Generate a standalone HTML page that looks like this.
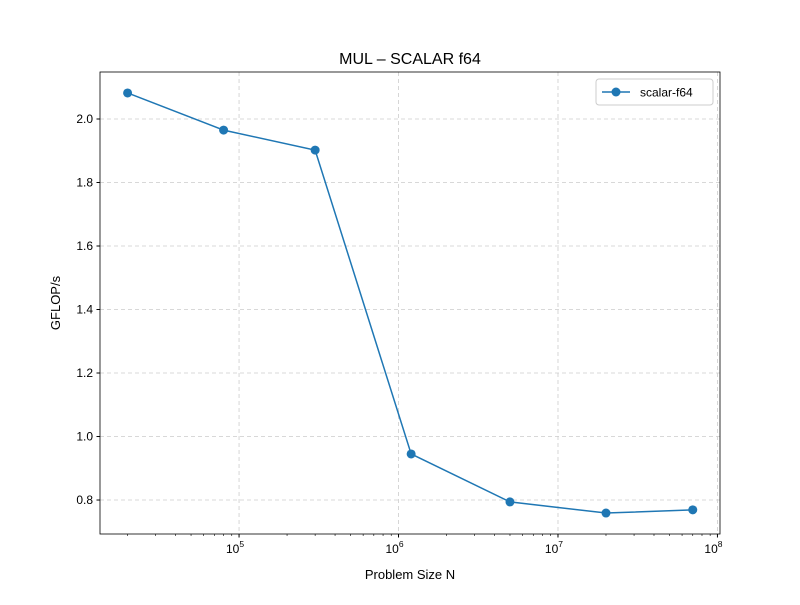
<!DOCTYPE html>
<html><head><meta charset="utf-8"><style>
body{margin:0;background:#fff}
svg{font-family:"Liberation Sans","DejaVu Sans",sans-serif}
</style></head><body>
<svg id="c" width="800" height="600"></svg>
<script>
const sizes=[2e4,8e4,3e5,1.2e6,5e6,2e7,7e7];
const gflops=[2.082,1.965,1.902,0.945,0.794,0.759,0.769];
const yTicks=[0.8,1.0,1.2,1.4,1.6,1.8,2.0];
const xTickExp=[5,6,7,8];
const L=100,R=720,T=72,B=534;
const xmin=4.128,xmax=8.016,ymin=0.693,ymax=2.148;
const X=v=>L+(Math.log10(v)-xmin)/(xmax-xmin)*(R-L);
const Y=v=>B-(v-ymin)/(ymax-ymin)*(B-T);
const s=document.getElementById('c');const ns='http://www.w3.org/2000/svg';
function el(t,a,p){const e=document.createElementNS(ns,t);for(const k in a)e.setAttribute(k,a[k]);(p||s).appendChild(e);return e;}
const grid=el('g',{});


yTicks.forEach(v=>{const y=Y(v);
el('line',{x1:L,x2:R,y1:y,y2:y,stroke:'#ccc','stroke-dasharray':'4,3','stroke-width':0.8},grid);
el('line',{x1:L-3.5,x2:L,y1:y,y2:y,stroke:'#000'});
const t=el('text',{x:L-7,y:y+4,'text-anchor':'end','font-size':12});t.textContent=v.toFixed(1);

});
xTickExp.forEach(e=>{const x=X(Math.pow(10,e));
el('line',{x1:x,x2:x,y1:T,y2:B,stroke:'#ccc','stroke-dasharray':'4,3','stroke-width':0.8},grid);
el('line',{x1:x,x2:x,y1:B,y2:B+3.5,stroke:'#000'});
const t=el('text',{x:x-4,y:B+19,'text-anchor':'middle','font-size':12});t.textContent='10';


const sp=el('tspan',{dy:-6,'font-size':8.5},t);sp.textContent=e;});
for(let e=4;e<8;e++)for(let m=2;m<10;m++){const v=m*Math.pow(10,e);const lv=Math.log10(v);if(lv<xmin||lv>xmax)continue;const x=X(v);el('line',{x1:x,x2:x,y1:B,y2:B+2,stroke:'#000','stroke-width':0.6});}
el('rect',{x:L,y:T,width:R-L,height:B-T,fill:'none',stroke:'#000','stroke-width':0.8});
const line=el('polyline',{points:sizes.map((v,i)=>X(v)+','+Y(gflops[i])).join(' '),fill:'none',stroke:'#1f77b4','stroke-width':1.5});


sizes.forEach((v,i)=>{const c=el('circle',{cx:X(v),cy:Y(gflops[i]),r:4.5,fill:'#1f77b4'});

});
const ti=el('text',{x:410,y:64,'text-anchor':'middle','font-size':16});ti.textContent='MUL – SCALAR f64';


const xl=el('text',{x:410,y:579,'text-anchor':'middle','font-size':13});xl.textContent='Problem Size N';


const yl=el('text',{x:60,y:303,'text-anchor':'middle','font-size':13,transform:'rotate(-90 60 303)'});yl.textContent='GFLOP/s';


const lg=el('g',{});


el('rect',{x:596,y:79,width:117,height:26,rx:3,fill:'#fff',stroke:'#ccc'},lg);
el('line',{x1:602,x2:630,y1:92,y2:92,stroke:'#1f77b4','stroke-width':1.5},lg);
el('circle',{cx:616,cy:92,r:4.5,fill:'#1f77b4'},lg);
const lt=el('text',{x:640,y:96.5,'font-size':12},lg);lt.textContent='scalar-f64';
</script>
</body></html>
